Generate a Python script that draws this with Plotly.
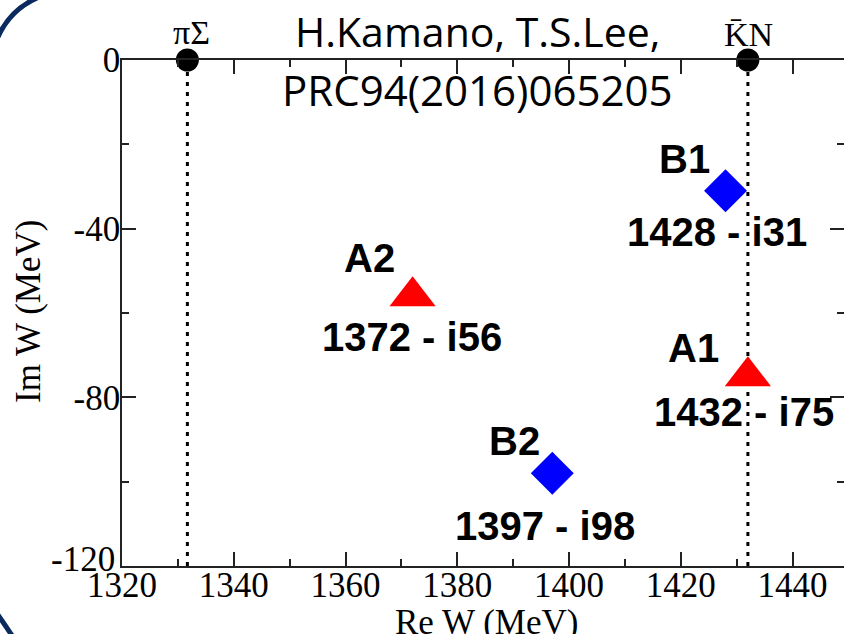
import plotly.graph_objects as go

# Pole positions W = Re W - i |Im W| (MeV)
pole_names = ["A1", "A2", "B1", "B2"]
pole_re = [1432, 1372, 1428, 1397]
pole_im = [-75, -56, -31, -98]

# Two-body thresholds on the real axis (MeV)
threshold_names = ["πΣ", "K\u0304N"]
threshold_re = [1331.7, 1432.0]

x_tickvals = [1320, 1340, 1360, 1380, 1400, 1420, 1440]
x_ticktext = ["1320", "1340", "1360", "1380", "1400", "1420", "1440"]
y_tickvals = [-120, -80, -40, 0]
y_ticktext = ["-120", "-80", "-40", "0"]

x_range = [1320, 1449.2]
y_range = [-120, 0]

reference_lines = ["H.Kamano, T.S.Lee,", "PRC94(2016)065205"]

# label offsets in pixels: (name dx, name dy, value dx, value dy)
label_offsets = {
    "A1": (-54, 28, -4, -36),
    "A2": (-43, 38, -1, -41),
    "B1": (-41, 32, -9, -41),
    "B2": (-38, 32, -7, -53),
}
threshold_label_offsets = [(4, 28), (1, 26)]

AXIS_COLOR = "#222222"
SERIF = "Liberation Serif"
SANS = "Liberation Sans"

W, H = 844, 634
ML, MR, MT, MB = 122, 0, 60, 68
PW, PH = W - ML - MR, H - MT - MB


def px_to_paper(px, py):
    return (px - ML) / PW, (H - MB - py) / PH


fig = go.Figure()

# dotted vertical lines at the thresholds
for t in threshold_re:
    fig.add_trace(go.Scatter(
        x=[t, t], y=y_range, mode="lines",
        line=dict(color="black", width=3, dash="4px,6px"),
        hoverinfo="skip", showlegend=False, cliponaxis=False,
    ))

# threshold points
fig.add_trace(go.Scatter(
    x=threshold_re, y=[0] * len(threshold_re), mode="markers",
    marker=dict(size=23, color="black", line=dict(width=0)),
    showlegend=False, cliponaxis=False,
))

# poles: A family (triangles), B family (diamonds)
a_idx = [i for i, n in enumerate(pole_names) if n.startswith("A")]
b_idx = [i for i, n in enumerate(pole_names) if n.startswith("B")]
fig.add_trace(go.Scatter(
    x=[pole_re[i] for i in a_idx], y=[pole_im[i] for i in a_idx], mode="markers",
    marker=dict(symbol="triangle-up", size=40, color="#ff0000", line=dict(width=0)),
    showlegend=False,
))
fig.add_trace(go.Scatter(
    x=[pole_re[i] for i in b_idx], y=[pole_im[i] for i in b_idx], mode="markers",
    marker=dict(symbol="diamond", size=33, color="#0000ff", line=dict(width=0)),
    showlegend=False,
))

annotations = []
for name, re, im in zip(pole_names, pole_re, pole_im):
    ndx, ndy, vdx, vdy = label_offsets[name]
    annotations.append(dict(
        x=re, y=im, xref="x", yref="y", text=name, showarrow=False,
        xanchor="center", yanchor="middle", xshift=ndx, yshift=ndy,
        font=dict(family=SANS, size=40, color="black", weight="bold"),
    ))
    annotations.append(dict(
        x=re, y=im, xref="x", yref="y", text=f"{re} - i{abs(im)}", showarrow=False,
        xanchor="center", yanchor="middle", xshift=vdx, yshift=vdy,
        font=dict(family=SANS, size=40, color="black", weight="bold"),
    ))

for name, t, (dx, dy) in zip(threshold_names, threshold_re, threshold_label_offsets):
    annotations.append(dict(
        x=t, y=0, xref="x", yref="y", text=name, showarrow=False,
        xanchor="center", yanchor="middle", xshift=dx, yshift=dy,
        font=dict(family=SERIF, size=34, color="black"),
    ))

# the lowest y tick label sits slightly raised, clear of the x tick labels
annotations.append(dict(
    x=0, y=y_tickvals[0], xref="paper", yref="y", text=y_ticktext[0], showarrow=False,
    xanchor="right", yanchor="middle", xshift=-5, yshift=7,
    font=dict(family=SERIF, size=35, color="black"),
))
y_ticktext_axis = [""] + y_ticktext[1:]

# citation, placed in pixel terms
for text, size, (px, py) in zip(reference_lines, [41, 42], [(477, 31), (477, 89)]):
    ax, ay = px_to_paper(px, py)
    annotations.append(dict(
        x=ax, y=ay, xref="paper", yref="paper", text=text, showarrow=False,
        xanchor="center", yanchor="middle",
        font=dict(family="Open Sans", size=size, color="black"),
    ))

# axis titles
ax, ay = px_to_paper(487, 622)
annotations.append(dict(
    x=ax, y=ay, xref="paper", yref="paper", text="Re W (MeV)", showarrow=False,
    xanchor="center", yanchor="middle",
    font=dict(family=SERIF, size=35, color="black"),
))
ax, ay = px_to_paper(28, 312)
annotations.append(dict(
    x=ax, y=ay, xref="paper", yref="paper", text="Im W (MeV)", showarrow=False,
    xanchor="center", yanchor="middle", textangle=-90,
    font=dict(family=SERIF, size=35, color="black"),
))

fig.update_layout(annotations=annotations)


# slide frame corners
def path_px(points):
    (x0, y0), (cx, cy), (x1, y1) = [px_to_paper(*p) for p in points]
    return f"M {x0},{y0} Q {cx},{cy} {x1},{y1}"


frame_color = "#0b2a5e"
fig.add_shape(type="path", xref="paper", yref="paper",
              path=path_px([(-2, 37), (10, 10), (37, -2)]),
              line=dict(color=frame_color, width=5))
fig.add_shape(type="path", xref="paper", yref="paper",
              path=path_px([(-2, 615), (5, 625), (13, 637)]),
              line=dict(color=frame_color, width=5))

axis_common = dict(
    showline=True, linecolor=AXIS_COLOR, linewidth=1.5, mirror="ticks",
    ticks="inside", tickcolor=AXIS_COLOR, tickwidth=1.5, ticklen=14,
    showgrid=False, zeroline=False, automargin=False,
    tickfont=dict(family=SERIF, size=35, color="black"),
)

fig.update_xaxes(
    range=x_range, tickvals=x_tickvals, ticktext=x_ticktext,
    ticklabelstandoff=-13,
    minor=dict(ticks="inside", ticklen=7, tickwidth=1.5, tickcolor=AXIS_COLOR,
               tick0=1320, dtick=10),
    **axis_common,
)
fig.update_yaxes(
    range=y_range, tickvals=y_tickvals, ticktext=y_ticktext_axis,
    ticklabelstandoff=-7,
    minor=dict(ticks="inside", ticklen=7, tickwidth=1.5, tickcolor=AXIS_COLOR,
               tick0=-120, dtick=20),
    **axis_common,
)

fig.update_layout(
    width=W, height=H,
    margin=dict(l=ML, r=MR, t=MT, b=MB, pad=0),
    plot_bgcolor="white", paper_bgcolor="white",
    showlegend=False,
)

fig.write_html("out.html")
